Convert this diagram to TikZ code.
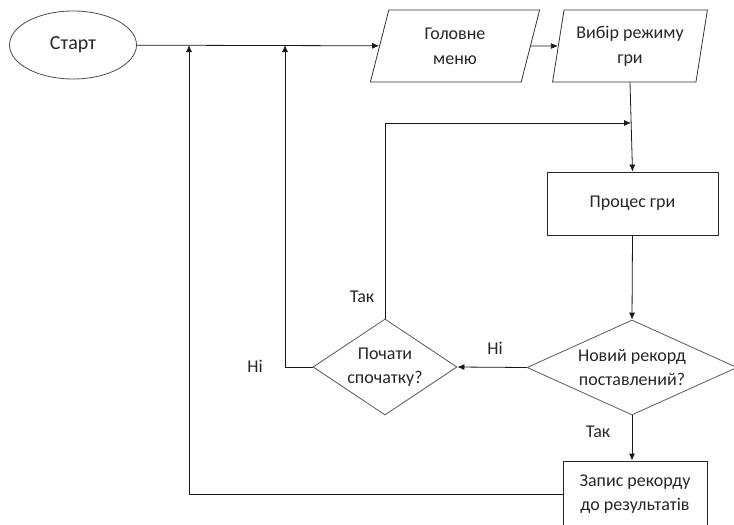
\documentclass[tikz,border=0pt]{standalone}
\usepackage{fontspec}
\setmainfont{Carlito}
\usetikzlibrary{shapes.geometric,arrows.meta}

\begin{document}
\begin{tikzpicture}[x=1pt, y=-1pt,
  every node/.style={font=\fontsize{18}{24}\selectfont, text=black!85},
  line/.style={draw=black!90, line width=0.8pt},
  arrow/.style={line, -{Latex[length=7pt,width=6pt]}},
  startnode/.style={ellipse, draw=black!70, line width=0.8pt, minimum width=127pt, minimum height=68pt, inner sep=0pt},
  io/.style={trapezium, trapezium left angle=77, trapezium right angle=103, trapezium stretches=true,
    draw=black!80, line width=0.8pt, minimum height=72pt, inner sep=0pt, align=center,
    font=\fontsize{18}{25}\selectfont},
  process/.style={rectangle, draw=black!85, line width=0.8pt, inner sep=0pt, align=center},
  decision/.style={diamond, draw=black!65, line width=0.8pt, inner sep=0pt, align=center},
  answer/.style={inner sep=1pt}]
  \useasboundingbox (0,0) rectangle (734,525);
  \clip (0,0) rectangle (734,525);

  % blocks
  \node[startnode, font=\fontsize{20}{24}\selectfont] (start) at (73,45) {Старт};
  \node[io, minimum width=170pt] (menu) at (455,46) {Головне\\меню};
  \node[io, minimum width=155pt] (mode) at (630,46) {Вибір режиму\\гри};
  \node[process, minimum width=171pt, minimum height=63pt] (game) at (632.5,203.5) {Процес гри};
  \node[decision, aspect=2.2, minimum width=210pt, minimum height=95pt] (record) at (632,367.5) {Новий рекорд\\поставлений?};
  \node[decision, aspect=1.5, minimum width=144pt, minimum height=96pt] (again) at (385,367) {Почати\\спочатку?};
  \node[process, minimum width=144pt, minimum height=66pt] (save) at (635,494) {Запис рекорду\\до результатів};

  % join points
  \coordinate (loop) at (631,123);
  \coordinate (backA) at (285,45);
  \coordinate (backB) at (189,45);

  % main flow
  \draw[arrow] (start) -- (menu);
  \draw[arrow] (menu) -- (mode);
  \draw[arrow] (mode.south) -- (game.north);
  \draw[arrow] (game.south) -- (record.north);
  \draw[arrow] (record.west) -- (again.east);
  \draw[arrow] (record.south) -- (record.south |- save.north);

  % returns
  \draw[arrow] (again.north) |- (loop);
  \draw[arrow] (again.west) -| (backA);
  \draw[arrow] (save.west) -| (backB);

  % answers
  \node[answer] (noA) at (495,348) {Ні};
  \node[answer] (yesA) at (598,432) {Так};
  \node[answer] (yesB) at (362,297) {Так};
  \node[answer] (noB) at (255,366) {Ні};
\end{tikzpicture}
\end{document}
